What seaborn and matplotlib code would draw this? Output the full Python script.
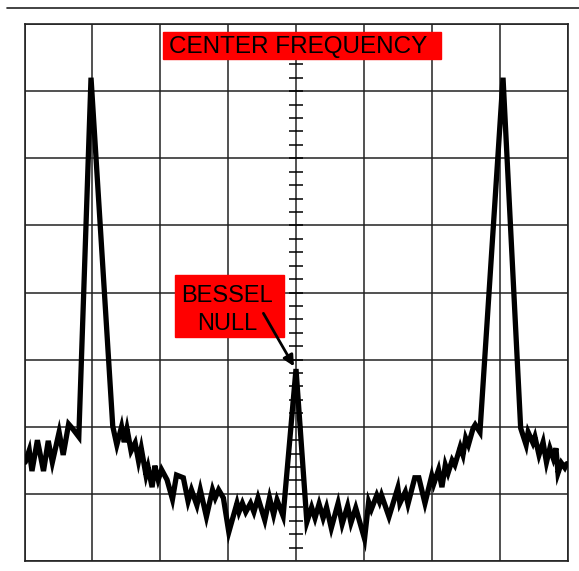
"""Spectrum analyzer trace with Bessel null at the center frequency."""

import matplotlib.pyplot as plt
import numpy as np
import pandas as pd
import seaborn as sns
from matplotlib.lines import Line2D
from matplotlib.patches import Rectangle

# Trace, in grid divisions (x: centred, y: from bottom)
freq_div = [
    -3.99, -3.93, -3.89, -3.81, -3.72, -3.65, -3.59, -3.49, -3.43, -3.35,
    -3.29, -3.20, -3.02, -2.70, -2.64, -2.57, -2.53, -2.49, -2.43, -2.37,
    -2.32, -2.28, -2.21, -2.18, -2.12, -2.08, -2.03, -1.98, -1.90, -1.82,
    -1.76, -1.66, -1.59, -1.54, -1.46, -1.41, -1.32, -1.23, -1.19, -1.14,
    -1.07, -0.99, -0.87, -0.84, -0.79, -0.74, -0.67, -0.62, -0.56, -0.46,
    -0.39, -0.33, -0.28, -0.19, 0.00, 0.16, 0.23, 0.28, 0.34, 0.40,
    0.45, 0.52, 0.62, 0.68, 0.76, 0.81, 0.88, 1.01, 1.07, 1.11,
    1.19, 1.23, 1.26, 1.37, 1.50, 1.53, 1.61, 1.65, 1.75, 1.81,
    1.90, 2.00, 2.03, 2.10, 2.15, 2.20, 2.24, 2.30, 2.34, 2.42,
    2.46, 2.50, 2.54, 2.61, 2.64, 2.71, 3.05, 3.31, 3.39, 3.42,
    3.49, 3.52, 3.58, 3.64, 3.69, 3.74, 3.79, 3.83, 3.86, 3.91,
    3.96, 3.99,
]
level_div = [
    1.47, 1.65, 1.34, 1.80, 1.34, 1.79, 1.47, 1.92, 1.58, 2.04,
    1.97, 1.85, 7.20, 2.01, 1.73, 2.00, 1.77, 1.97, 1.64, 1.76,
    1.49, 1.68, 1.28, 1.40, 1.10, 1.42, 1.21, 1.36, 1.21, 0.92,
    1.28, 1.24, 0.89, 1.06, 0.83, 1.06, 0.66, 1.06, 0.94, 1.06,
    0.94, 0.43, 0.86, 0.73, 0.86, 0.73, 0.86, 0.73, 0.94, 0.61,
    0.94, 0.69, 0.91, 0.67, 2.86, 0.58, 0.80, 0.64, 0.85, 0.64,
    0.80, 0.49, 0.86, 0.55, 0.82, 0.57, 0.79, 0.33, 0.88, 0.77,
    0.98, 0.88, 0.98, 0.66, 1.09, 0.86, 1.03, 0.85, 1.24, 1.24,
    0.86, 1.27, 1.15, 1.36, 1.10, 1.43, 1.31, 1.50, 1.43, 1.70,
    1.58, 1.83, 1.73, 1.98, 2.03, 1.92, 7.20, 1.98, 1.73, 1.92,
    1.76, 1.85, 1.58, 1.77, 1.47, 1.68, 1.53, 1.68, 1.31, 1.46,
    1.39, 1.45,
]

trace = pd.DataFrame({"freq": freq_div, "level": level_div})

sns.set_style("white")
plt.rcParams["font.family"] = ["Liberation Sans", "DejaVu Sans"]
plt.rcParams["text.color"] = "black"

fig = plt.figure(figsize=(5.79, 5.71), dpi=100)
ax = fig.add_axes([24.5 / 579, 10 / 571, 543 / 579, 537 / 571])

# Screen graticule
grid_color = "#222222"
ax.set_xlim(-4, 4)
ax.set_ylim(0, 8)
ax.set_xticks(np.arange(-4, 5))
ax.set_yticks(np.arange(0, 9))
ax.tick_params(length=0, labelbottom=False, labelleft=False)
ax.grid(True, color=grid_color, linewidth=1.1)
for spine in ax.spines.values():
    spine.set_color(grid_color)
    spine.set_linewidth(1.2)

# Minor ticks along the centre line
minor = np.arange(0.2, 8, 0.2)
ax.hlines(minor, -0.11, 0.11, color="black", linewidth=1.1, zorder=2)

sns.lineplot(
    data=trace,
    x="freq",
    y="level",
    estimator=None,
    sort=False,
    color="black",
    linewidth=3.8,
    ax=ax,
    zorder=3,
)
ax.lines[-1].set_solid_joinstyle("miter")
ax.set_xlabel("")
ax.set_ylabel("")

# Labels
ax.add_patch(Rectangle((-1.96, 7.48), 4.10, 0.40, color="red", zorder=4))
ax.text(0.03, 7.57, "CENTER FREQUENCY", fontsize=17.5, ha="center",
        va="baseline", color="black", zorder=5)

ax.add_patch(Rectangle((-1.78, 3.34), 1.60, 0.92, color="red", zorder=4))
ax.text(-1.01, 3.86, "BESSEL", fontsize=17, ha="center", va="baseline",
        color="black", zorder=5)
ax.text(-1.01, 3.44, "NULL", fontsize=17, ha="center", va="baseline",
        color="black", zorder=5)
ax.annotate(
    "",
    xy=(-0.03, 2.90),
    xytext=(-0.48, 3.69),
    arrowprops=dict(arrowstyle="-|>", color="black", lw=2,
                    mutation_scale=16, shrinkA=0, shrinkB=0),
    zorder=5,
)

# Rule across the top of the page
fig.add_artist(Line2D([7 / 579, 1], [1 - 8 / 571, 1 - 8 / 571],
                      color="#222222", linewidth=1.2))

plt.savefig("out.png", dpi=100)
plt.close()
